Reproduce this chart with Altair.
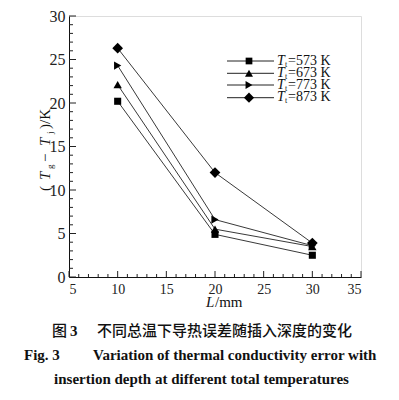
import altair as alt
import pandas as pd

# ---- data ----
L_mm = [10, 20, 30]
series_T = ["573 K", "673 K", "773 K", "873 K"]
dT_573 = [20.2, 4.9, 2.5]
dT_673 = [22.1, 5.5, 3.5]
dT_773 = [24.3, 6.6, 3.6]
dT_873 = [26.3, 12.0, 3.9]
series_vals = [dT_573, dT_673, dT_773, dT_873]
shapes = ["square", "triangle-up", "triangle-right", "diamond"]
sizes = [50, 70, 70, 115]

x_major = [5, 10, 15, 20, 25, 30, 35]
x_minor = [v for v in range(5, 36) if v % 5 != 0]
y_major = [0, 5, 10, 15, 20, 25, 30]
y_minor = [v for v in range(0, 31) if v % 5 != 0]

W, H = 292, 261
OX, OY = 69, 16  # page position of plot origin
SERIF = "Liberation Serif"
CJK = "Noto Sans CJK SC"


def px(x):
    return x - OX


def py(y):
    return y - OY


rows = []
for name, vals in zip(series_T, series_vals):
    for l, v in zip(L_mm, vals):
        rows.append({"series": name, "L": l, "dT": v})
df = pd.DataFrame(rows)

xs = alt.Scale(domain=[5, 35], nice=False, zero=False)
ys = alt.Scale(domain=[0, 30], nice=False, zero=True)

base = alt.Chart(df)

lines = base.mark_line(color="#222", strokeWidth=0.9).encode(
    x=alt.X("L:Q", scale=xs,
            axis=alt.Axis(values=x_major, ticks=False, grid=False, title=None,
                          domainColor="#111", domainWidth=1,
                          labelFont=SERIF, labelFontSize=14, labelColor="#222",
                          labelPadding=5)),
    y=alt.Y("dT:Q", scale=ys,
            axis=alt.Axis(values=y_major, ticks=False, grid=False, title=None,
                          domainColor="#111", domainWidth=1,
                          labelFont=SERIF, labelFontSize=16, labelColor="#222",
                          labelPadding=4)),
    detail="series:N",
)

layers = [lines]
for name, shp, sz in zip(series_T, shapes, sizes):
    layers.append(
        alt.Chart(df[df.series == name]).mark_point(
            shape=shp, size=sz, filled=True, color="#000", opacity=1
        ).encode(x=alt.X("L:Q", scale=xs), y=alt.Y("dT:Q", scale=ys))
    )

# inward ticks
def xtick_layer(vals, length):
    return alt.Chart(pd.DataFrame({"v": vals})).mark_rule(color="#222", strokeWidth=1).encode(
        x=alt.X("v:Q", scale=xs), y=alt.value(H), y2=alt.value(H - length))


def ytick_layer(vals, length):
    return alt.Chart(pd.DataFrame({"v": vals})).mark_rule(color="#222", strokeWidth=1).encode(
        y=alt.Y("v:Q", scale=ys), x=alt.value(0), x2=alt.value(length))


layers += [xtick_layer(x_major, 6), xtick_layer(x_minor, 3),
           ytick_layer(y_major, 7), ytick_layer(y_minor, 4)]

one = pd.DataFrame({"a": [0]})


def txt(text, x, y, size=14, font=SERIF, style="normal", weight="normal",
        align="left", baseline="alphabetic", angle=0):
    kw = dict(text=text, font=font, fontSize=size, fontStyle=style, fontWeight=weight,
              align=align, baseline=baseline, color="#111")
    if angle:
        kw["angle"] = angle
    return alt.Chart(one).mark_text(**kw).encode(x=alt.value(px(x)), y=alt.value(py(y)))


# legend
leg_y = [61, 73.3, 85, 97.7]
for name, shp, sz, ly in zip(series_T, shapes, sizes, leg_y):
    layers.append(alt.Chart(one).mark_rule(color="#222", strokeWidth=1).encode(
        x=alt.value(px(227)), x2=alt.value(px(274)), y=alt.value(py(ly))))
    layers.append(alt.Chart(one).mark_point(shape=shp, size=sz * 0.9, filled=True,
                                            color="#000", opacity=1).encode(
        x=alt.value(px(249)), y=alt.value(py(ly))))
    layers.append(txt("T", 277, ly + 3.5, size=14, style="italic"))
    layers.append(txt("t", 285, ly + 5.5, size=8))
    layers.append(txt("=" + name, 288, ly + 3.5, size=14))

# x title
layers.append(txt("L", 206, 307, size=15, style="italic"))
layers.append(txt("/mm", 215, 307, size=15))

# y title (rotated)
yt = [("(", 191, 45, 15, "normal"), ("T", 180, 45, 15, "italic"),
      ("g", 169, 50, 9, "normal"), ("\u2212", 162, 45, 15, "normal"),
      ("T", 146, 45, 15, "italic"), ("j", 134, 50, 9, "normal"),
      (")/K", 129, 45, 15, "normal")]
for t, yy, xx, s, st in yt:
    layers.append(txt(t, xx, yy, size=s, style=st, baseline="middle", angle=270))

# captions
layers.append(txt("图", 52, 331, size=15, font=CJK, weight=500, baseline="middle"))
layers.append(txt("3", 70, 331, size=15, weight="bold", baseline="middle"))
layers.append(txt("不同总温下导热误差随插入深度的变化", 97, 331, size=15, font=CJK,
                  weight=500, baseline="middle"))
layers.append(txt("Fig. 3", 24, 355, size=15, weight="bold", baseline="middle"))
layers.append(txt("Variation of thermal conductivity error with", 93, 355, size=15,
                  weight="bold", baseline="middle"))
layers.append(txt("insertion depth at different total temperatures", 201.5, 379, size=15,
                  weight="bold", baseline="middle", align="center"))

chart = alt.layer(*layers).properties(
    width=W, height=H,
    autosize=alt.AutoSizeParams(type="none"),
    padding={"left": 61, "top": 8, "right": 30, "bottom": 113},
).configure_view(stroke=None).configure(background="white")

chart.save("out.html", embed_options={"renderer": "svg", "actions": False})
